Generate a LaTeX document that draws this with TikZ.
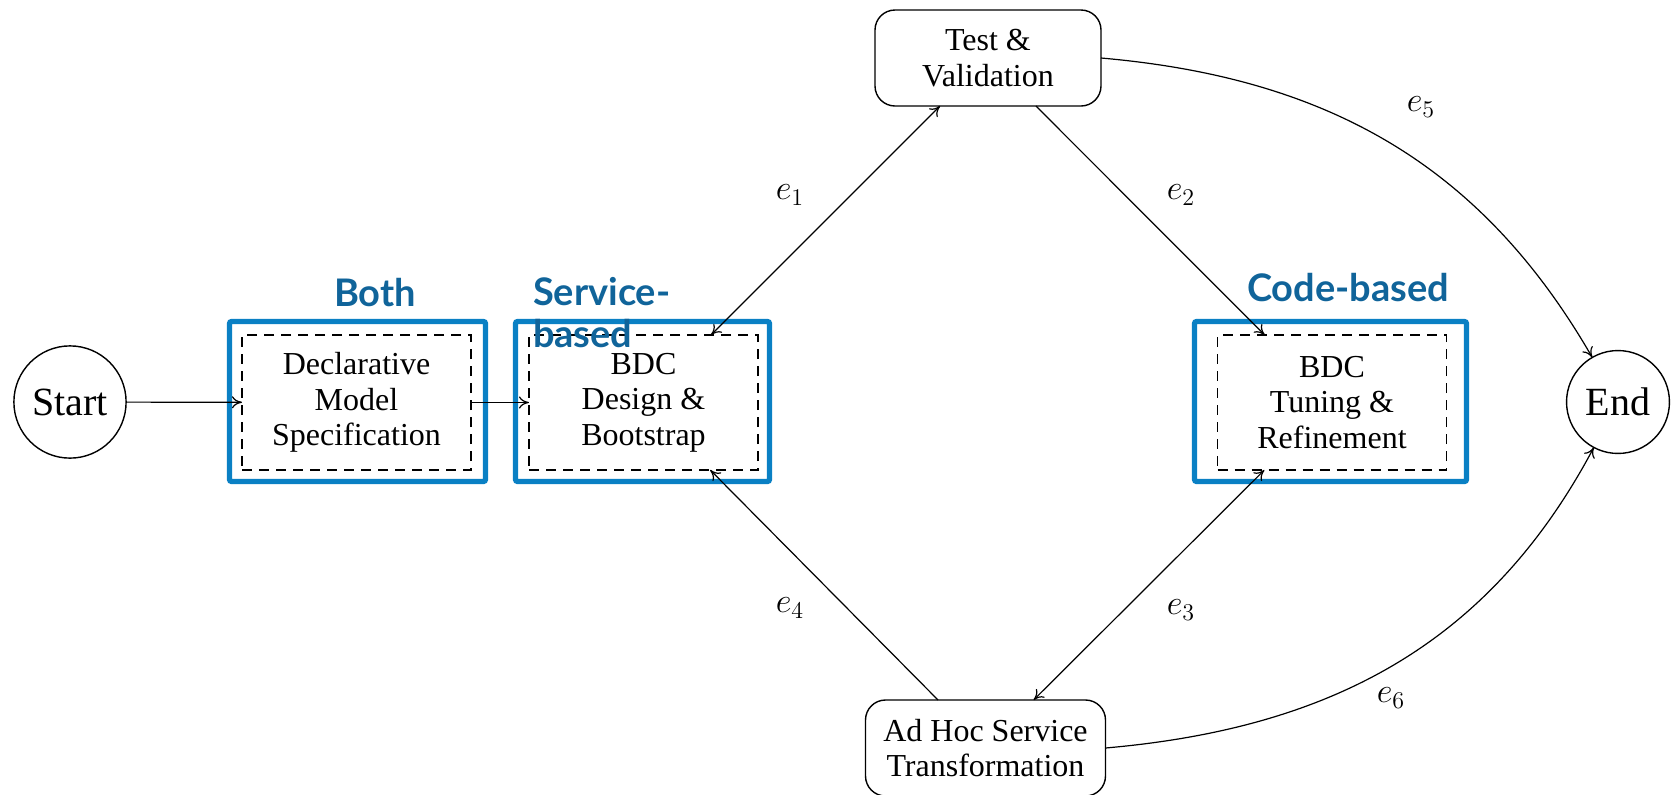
\documentclass[tikz,border=0pt]{standalone}
\usepackage{fontspec}
\setmainfont{Liberation Serif}
\newfontfamily\bluefont{Lato}
\usetikzlibrary{arrows.meta}
\definecolor{boxblue}{HTML}{0A80C4}
\definecolor{txtblue}{HTML}{10649A}
\begin{document}
\begin{tikzpicture}[x=0.5pt,y=-0.5pt,
  every node/.style={font=\fontsize{16}{17.8}\selectfont, inner sep=0pt, outer sep=0pt},
  conn/.style={line width=0.6pt, >={To[length=5pt,width=6pt]}},
  roundnode/.style={circle, draw, line width=0.7pt, inner sep=6.1pt, font=\fontsize{20}{24}\selectfont},
  dashbox/.style={draw, dashed, dash pattern=on 5pt off 3.5pt, line width=0.9pt, align=center, minimum width=114.5pt, minimum height=67.5pt},
  bluebox/.style={draw=boxblue, line width=2.6pt, rounded corners=1pt, minimum height=80pt},
  termbox/.style={draw, line width=0.7pt, rounded corners=10pt, align=center, minimum height=48pt},
  bluelabel/.style={text=txtblue, font=\bluefont\bfseries\fontsize{19}{21}\selectfont},
  elabel/.style={font=\fontsize{17}{20}\selectfont}
]
\useasboundingbox (0,0) rectangle (1678,794);
% blue frames
\node[bluebox, minimum width=128pt] (bothbox) at (357.5,401.5) {};
\node[bluebox, minimum width=127pt] (servbox) at (642.5,401.5) {};
\node[bluebox, minimum width=136pt] (codebox) at (1330.5,401.5) {};
% nodes
\node[roundnode] (start) at (70,402) {Start};
\node[roundnode] (end) at (1618,402) {End};
\node[dashbox] (decl) at (356.5,402.5) {Declarative\\Model\\Specification};
\node[dashbox] (bdc) at (643.5,402.5) {BDC\\Design \&\\Bootstrap};
\node[dashbox] (tun) at (1332,402.5) {BDC\\Tuning \&\\Refinement};
\node[termbox, minimum width=113pt] (test) at (988,58) {Test \&\\Validation};
\node[termbox, minimum width=120pt] (adhoc) at (985.5,748) {Ad Hoc Service\\Transformation};
% blue labels
\node[bluelabel] (lboth) at (375,293) {Both};
\node[bluelabel, align=left, anchor=west] (lserv) at (533,313) {Service-\\based};
\node[bluelabel] (lcode) at (1348,288) {Code-based};
% connectors
\draw[conn,->] (start) -- (decl);
\draw[conn,->] (decl) -- (bdc);
\draw[conn,<->] (bdc) -- (test);
\draw[conn,->] (test) -- (tun);
\draw[conn,<->] (adhoc) -- (tun);
\draw[conn,->] (adhoc) -- (bdc);
\draw[conn,->] (test.east) to[out=-5,in=120] (end);
\draw[conn,->] (adhoc.east) to[out=5,in=-118] (end);
% edge labels
\node[elabel] (e1) at (790,195) {$e_1$};
\node[elabel] (e2) at (1181,195) {$e_2$};
\node[elabel] (e3) at (1181,610) {$e_3$};
\node[elabel] (e4) at (790,608) {$e_4$};
\node[elabel] (e5) at (1421,107) {$e_5$};
\node[elabel] (e6) at (1391,698) {$e_6$};
\end{tikzpicture}
\end{document}
